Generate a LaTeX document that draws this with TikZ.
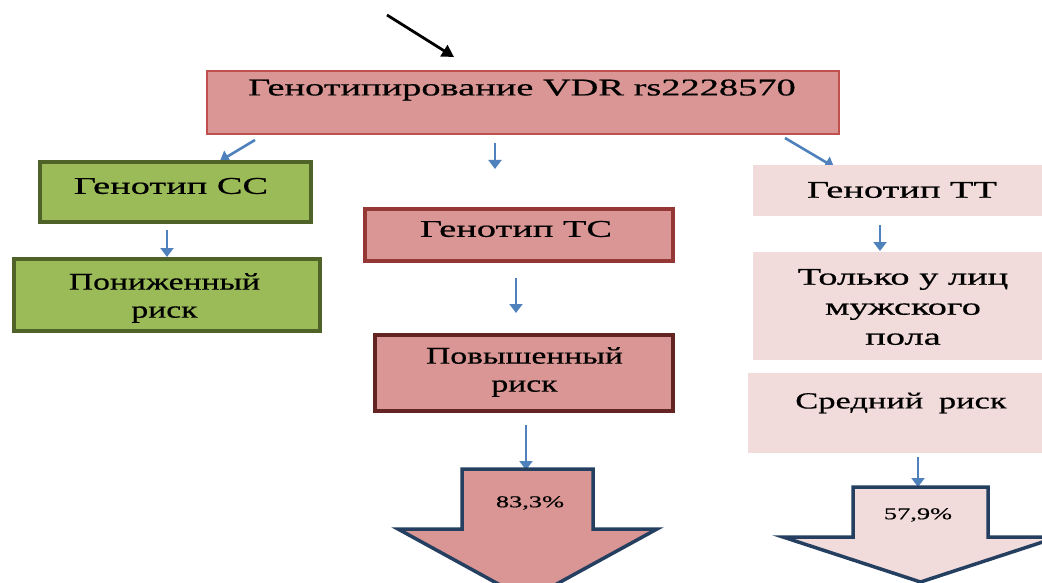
\documentclass[tikz,border=0pt]{standalone}
\usepackage{fontspec}
\setmainfont{Liberation Serif}
\newfontfamily\wf[FakeStretch=1.6,FakeBold=0.6]{Liberation Serif}
\newfontfamily\nf[FakeStretch=1.4,FakeBold=0.6]{Liberation Serif}
\newfontfamily\mf[FakeStretch=1.5,FakeBold=0.6]{Liberation Serif}
\usetikzlibrary{arrows.meta}
\definecolor{redfill}{HTML}{D99694}
\definecolor{redline}{HTML}{C0504D}
\definecolor{tcline}{HTML}{953735}
\definecolor{hiline}{HTML}{632523}
\definecolor{grfill}{HTML}{9BBB59}
\definecolor{grline}{HTML}{4F6228}
\definecolor{pkfill}{HTML}{F2DCDB}
\definecolor{blarrow}{HTML}{4F81BD}
\definecolor{navy}{HTML}{243F60}
\tikzset{
  box/.style={rectangle, inner sep=0pt, outer sep=0pt},
  txt/.style={font=\wf\fontsize{24}{28}\selectfont, align=center, inner sep=0pt, text=black},
  ntxt/.style={txt, font=\nf\fontsize{24}{28}\selectfont},
  small/.style={font=\wf\fontsize{16.5}{18}\selectfont, inner sep=0pt},
  barrow/.style={draw=blarrow, line width=2.6pt, -{Triangle[width=13pt,length=9pt]}},
  karrow/.style={draw=black, line width=2.8pt, -{Triangle[width=13pt,length=12pt]}},
  bigarrow/.style={draw=navy, line width=3.5pt, line join=miter}
}
\begin{document}
\begin{tikzpicture}[x=1pt,y=-1pt]
\useasboundingbox (0,0) rectangle (1042,583);
\clip (0,0) rectangle (1042,583);
% connector end points
\coordinate (k1) at (387,15); \coordinate (k2) at (454,57);
\coordinate (a1s) at (255,140); \coordinate (a1e) at (220,161);
\coordinate (a2s) at (495,143); \coordinate (a2e) at (495,169);
\coordinate (a3s) at (785,138); \coordinate (a3e) at (834,167);
\coordinate (a4s) at (167,230); \coordinate (a4e) at (167,257);
\coordinate (a5s) at (516,278); \coordinate (a5e) at (516,313);
\coordinate (a6s) at (880,225); \coordinate (a6e) at (880,251);
\coordinate (a7s) at (526,425); \coordinate (a7e) at (526,470);
\coordinate (a8s) at (918,457); \coordinate (a8e) at (918,487);
% arrows
\draw[karrow] (k1) -- (k2);
\foreach \n in {1,...,8} { \draw[barrow] (a\n s) -- (a\n e); }
% boxes
\node[box, draw=redline, fill=redfill, line width=2pt, minimum width=632pt, minimum height=63pt] (top) at (523,102.5) {};
\node[box, draw=grline, fill=grfill, line width=3.5pt, minimum width=271pt, minimum height=60pt] (cc) at (175.5,192) {};
\node[box, draw=grline, fill=grfill, line width=3.5pt, minimum width=306pt, minimum height=72pt] (low) at (167,295) {};
\node[box, draw=tcline, fill=redfill, line width=3.5pt, minimum width=308pt, minimum height=52pt] (tc) at (519,235) {};
\node[box, draw=hiline, fill=redfill, line width=3.5pt, minimum width=298pt, minimum height=76pt] (high) at (524,373) {};
\node[box, fill=pkfill, minimum width=298pt, minimum height=51pt] (tt) at (902,190.5) {};
\node[box, fill=pkfill, minimum width=298pt, minimum height=108pt] (male) at (902,306) {};
\node[box, fill=pkfill, minimum width=303pt, minimum height=80pt] (mid) at (899.5,413) {};
% big arrows
\draw[bigarrow, fill=redfill] (462,469) -- (593,469) -- (593,529) -- (657,529) -- (527.5,600) -- (398,529) -- (462,529) -- cycle;
\draw[bigarrow, fill=pkfill] (853,487) -- (988,487) -- (988,537) -- (1058,537) -- (920.5,582) -- (783,537) -- (853,537) -- cycle;
% texts
\node[txt] (toptxt) at (522,90) {Генотипирование VDR rs2228570};
\node[txt] (cctxt) at (171,186) {Генотип СС};
\node[ntxt] (lowtxt) at (164.5,298) {Пониженный\\риск};
\node[txt] (tctxt) at (516,229) {Генотип ТС};
\node[ntxt] (hightxt) at (524.5,372) {Повышенный\\риск};
\node[txt] (tttxt) at (902,190) {Генотип ТТ};
\node[txt, font=\wf\fontsize{24}{30}\selectfont] (maletxt) at (903,307) {Только у лиц\\мужского\\пола};
\node[txt, font=\mf\fontsize{23}{28}\selectfont] (midtxt) at (901,403) {Средний\hspace{0.3em} риск};
\node[small] (p1) at (530,503) {83,3\%};
\node[small] (p2) at (918,515) {57,9\%};
\end{tikzpicture}
\end{document}
